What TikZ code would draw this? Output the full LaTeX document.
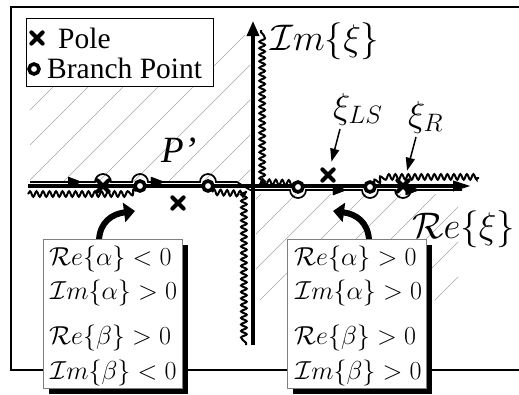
\documentclass[tikz,border=0pt]{standalone}
\usepackage{fix-cm}
\usepackage{fontspec}
\setmainfont{Liberation Serif}
\usetikzlibrary{arrows.meta,decorations.pathmorphing,decorations.markings,shapes.misc,shadows}
\begin{document}
\begin{tikzpicture}[x=1pt,y=-1pt,
  frame/.style={line width=1.2pt},
  hatch/.style={gray!70,line width=0.6pt},
  axisline/.style={line width=3.4pt},
  contour/.style={line width=1.7pt},
  wavy/.style={line width=2pt,decorate,decoration={snake,amplitude=2.8pt,segment length=6.5pt}},
  bpt/.style={circle,draw,line width=3.6pt,fill=white,minimum size=10pt,inner sep=0pt},
  polemark/.style={cross out,draw,line width=4.2pt,line cap=round,minimum size=7pt,inner sep=0pt},
  ptr/.style={line width=1.5pt,-{Triangle[length=13pt,width=9pt]}},
  swoosh/.style={line width=6pt,-{Triangle[length=11pt,width=19pt]}},
  midarrow/.style={postaction={decorate},decoration={markings,
     mark=at position #1 with {\arrow{Triangle[length=14pt,width=10pt]}}}},
  cbox/.style={draw=gray,line width=0.9pt,fill=white,anchor=north west,
     minimum width=139pt,minimum height=149pt,inner sep=0pt,
     drop shadow={shadow xshift=6pt,shadow yshift=-6pt,fill=black,opacity=1}},
  ctext/.style={anchor=base west,inner sep=0pt,font=\fontsize{26}{28}\selectfont},
  bigtext/.style={anchor=base west,inner sep=0pt,font=\fontsize{37}{40}\selectfont},
  symtext/.style={anchor=base west,inner sep=0pt,font=\fontsize{36}{38}\selectfont},
  legtext/.style={anchor=base west,inner sep=0pt,font=\fontsize{29.5}{32}\selectfont}]
\useasboundingbox (0,0) rectangle (519,394);
% frame
\draw[frame] (519,7) -- (11,7) -- (11,370) -- (519,370);
% hatching
\begin{scope}
  \clip (30,35) rectangle (250,181);
  \foreach \c in {70,105,...,420} \draw[hatch] ({\c-300},300) -- (\c,0);
\end{scope}
\begin{scope}
  \clip (256,194) rectangle (458,335);
  \foreach \c in {455,490,...,805} \draw[hatch] ({\c-300},300) -- (\c,0);
\end{scope}
% axes
\coordinate (vb) at (253,345);
\coordinate (vt) at (253,21);
\coordinate (hl) at (28,186);
\coordinate (hr) at (471,186);
\draw[axisline,-{Triangle[length=15pt,width=12pt]}] (vb) -- (vt);
\draw[axisline,-{Triangle[length=18pt,width=10pt]}] (hl) -- (hr);
% branch cuts
\draw[wavy] (28,194) -- (126,194) -- (137,190);
\draw[wavy] (212,192) -- (246,194) -- (246,345);
\draw[wavy] (294,183) -- (261,182) -- (261,30);
\draw[wavy] (374,183) -- (383,178) -- (479,178);
% contour
\draw[contour,midarrow=52pt,midarrow=153pt]
  (30,182) -- (95,182) arc[start angle=180,end angle=360,radius=8]
  -- (132,182) arc[start angle=180,end angle=360,radius=8]
  -- (200,182) arc[start angle=180,end angle=360,radius=8]
  -- (237,182) -- (250,190);
\draw[contour,midarrow=106pt,midarrow=197pt]
  (250,190) -- (290,190) arc[start angle=180,end angle=0,radius=8]
  -- (362,190) arc[start angle=180,end angle=0,radius=8]
  -- (395,190) arc[start angle=180,end angle=0,radius=8]
  -- (462,190);
% singularities
\node[polemark] (p1) at (103,186) {};
\node[polemark] (p2) at (178,203) {};
\node[polemark] (p3) at (328,175) {};
\node[polemark] (p4) at (403,186) {};
\node[bpt] (b1) at (140,186) {};
\node[bpt] (b2) at (208,186) {};
\node[bpt] (b3) at (298,187) {};
\node[bpt] (b4) at (370,187) {};
% labels
\node[bigtext] (imxi) at (270,50) {$\mathcal{I}m\{\xi\}$};
\node[bigtext] (rexi) at (412,238) {$\mathcal{R}e\{\xi\}$};
\node[anchor=base west,inner sep=0pt,font=\fontsize{37}{40}\selectfont] (pp) at (161,162) {\itshape P’};
\node[symtext] (xils) at (333,118) {$\xi_{LS}$};
\node[symtext] (xir) at (408,126) {$\xi_{R}$};
\coordinate (als) at (340,129);
\coordinate (ar) at (416,137);
\draw[ptr,shorten >=8pt] (als) -- (p3);
\draw[ptr,shorten >=10pt] (ar) -- (p4);
% swoosh arrows
\coordinate (s1a) at (99,240);
\coordinate (s1b) at (135,211);
\coordinate (s2a) at (369,240);
\coordinate (s2b) at (333,211);
\draw[swoosh] (s1a) .. controls (100,222) and (112,214) .. (s1b);
\draw[swoosh] (s2a) .. controls (368,222) and (356,214) .. (s2b);
% condition boxes
\node[cbox] (lbox) at (43,239) {};
\node[cbox] (rbox) at (287,239) {};
\node[ctext] (l1) at (49,265) {$\mathcal{R}e\{\alpha\} < 0$};
\node[ctext] (l2) at (50,299) {$\mathcal{I}m\{\alpha\} > 0$};
\node[ctext] (l3) at (49,344) {$\mathcal{R}e\{\beta\} > 0$};
\node[ctext] (l4) at (50,379) {$\mathcal{I}m\{\beta\} < 0$};
\node[ctext] (r1) at (294,265) {$\mathcal{R}e\{\alpha\} > 0$};
\node[ctext] (r2) at (295,299) {$\mathcal{I}m\{\alpha\} > 0$};
\node[ctext] (r3) at (294,344) {$\mathcal{R}e\{\beta\} > 0$};
\node[ctext] (r4) at (295,379) {$\mathcal{I}m\{\beta\} > 0$};
% legend
\node[draw,line width=1pt,fill=white,anchor=north west,minimum width=187pt,minimum height=68pt,inner sep=0pt] (legend) at (26,18) {};
\node[polemark] (lp) at (37,38) {};
\node[bpt] (lb) at (34,69) {};
\node[legtext] (lpt) at (58,48) {Pole};
\node[legtext] (lbt) at (47,78) {Branch Point};
\end{tikzpicture}
\end{document}
